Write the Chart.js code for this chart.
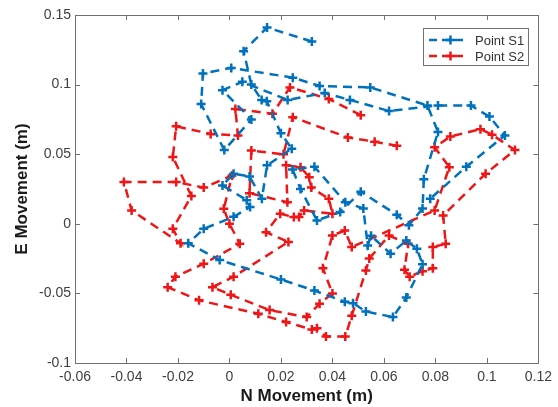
<!DOCTYPE html>
<html><head><meta charset="utf-8">
<script src="https://cdn.jsdelivr.net/npm/chart.js@4.4.1/dist/chart.umd.min.js"></script>
<style>html,body{margin:0;padding:0;background:#fff;}#wrap{width:558px;height:407px;}</style>
</head><body><div id="wrap"><canvas id="c" width="558" height="407"></canvas></div>
<script>
const seriesLabels = ["Point S1", "Point S2"];
const xTickRange = { min: -0.06, max: 0.12, step: 0.02 };
const yTickRange = { min: -0.1, max: 0.15, step: 0.05 };
const s1x = [0.032,0.0146,0.0055,0.0085,0.0125,0.0145,0.0200,0.0242,0.0146,0.0126,0.0078,0.0016,-0.0027,0.0067,0.008,0.0016,-0.010,-0.016,-0.0038,0.020,0.033,0.0448,0.048,0.053,0.0635,0.0687,0.075,0.0728,0.0687,0.0626,0.055,0.0537,0.052,0.045,0.033,0.0245,0.0276,0.034,0.043,0.051,0.065,0.0697,0.075,0.0755,0.081,0.0769,0.0547,0.035,0.0246,0.0007,-0.0103,-0.011,-0.002,0.0085,-0.0027,0.005,0.0226,0.037,0.0468,0.062,0.081,0.0938,0.101,0.107,0.092,0.078];
const s1y = [0.131,0.141,0.124,0.100,0.089,0.088,0.065,0.054,0.042,0.018,0.034,0.036,0.0275,0.017,0.012,0.005,-0.0036,-0.014,-0.026,-0.040,-0.048,-0.056,-0.057,-0.063,-0.067,-0.053,-0.029,-0.018,-0.012,-0.0215,-0.0085,-0.0155,0.011,0.0155,0.041,0.039,0.025,0.0024,0.0084,0.023,0.0065,-0.001,0.011,0.032,0.066,0.085,0.098,0.099,0.105,0.112,0.108,0.086,0.053,0.075,0.096,0.102,0.089,0.094,0.089,0.081,0.085,0.085,0.077,0.0635,0.041,0.018];
const s2x = [0.051,0.0386,0.0235,0.0167,0.0023,0.0033,-0.0073,-0.0207,-0.022,-0.0148,-0.022,-0.019,-0.038,-0.041,-0.0207,-0.010,0.001,-0.0022,0.0,0.004,-0.010,-0.021,-0.024,-0.0118,0.0112,0.022,0.032,0.034,0.0375,0.045,0.0475,0.053,0.0543,0.062,0.0694,0.068,0.070,0.075,0.079,0.079,0.084,0.083,0.0995,0.1109,0.102,0.0975,0.0858,0.0797,0.0854,0.0797,0.0475,0.0448,0.040,0.0363,0.040,0.035,0.030,0.0156,0.0005,-0.0066,0.0016,0.0229,0.0142,0.0197,0.025,0.027,0.029,0.040,0.0386,0.0318,0.031,0.0276,0.022,0.0225,0.0078,0.0085,0.021,0.0246,0.046,0.0564,0.065];
const s2y = [0.078,0.0897,0.098,0.079,0.0825,0.0634,0.0646,0.070,0.048,0.020,-0.0036,-0.014,0.0096,0.030,0.030,0.026,0.0347,0.0108,0.0,-0.0144,-0.0287,-0.038,-0.0455,-0.055,-0.0646,-0.0706,-0.076,-0.075,-0.081,-0.081,-0.066,-0.0335,-0.025,-0.0084,-0.0144,-0.033,-0.038,-0.034,-0.032,-0.0167,-0.0144,0.006,0.036,0.053,0.064,0.068,0.0627,0.055,0.0407,0.0096,-0.0167,-0.0048,-0.0084,-0.032,-0.050,-0.0574,-0.067,-0.062,-0.051,-0.0455,-0.038,-0.013,-0.006,0.0072,0.0048,0.0048,0.0096,0.0072,0.018,0.026,0.0335,0.0407,0.042,0.0155,0.022,0.0526,0.050,0.0766,0.062,0.059,0.056];

const blue = 'rgb(0,114,189)';
const red = 'rgb(238,22,22)';
const toPts = (xs, ys) => xs.map((x, i) => ({ x: x, y: ys[i] }));
const dash = [9, 6];
const fam = '"Liberation Sans", Arial, sans-serif';

const fmt = v => String(Math.round(v * 100) / 100);

const boxPlugin = {
  id: 'matlabBox',
  afterDatasetsDraw(chart) {
    const { ctx, chartArea: a, scales } = chart;
    ctx.save();
    ctx.strokeStyle = '#707070';
    ctx.lineWidth = 1;
    ctx.beginPath();
    ctx.rect(Math.round(a.left) + 0.5, Math.round(a.top) + 0.5, Math.round(a.right - a.left), Math.round(a.bottom - a.top));
    ctx.stroke();
    const tl = 5;
    ctx.beginPath();
    scales.x.ticks.forEach(t => {
      const px = Math.round(scales.x.getPixelForValue(t.value)) + 0.5;
      ctx.moveTo(px, a.bottom); ctx.lineTo(px, a.bottom - tl);
      ctx.moveTo(px, a.top); ctx.lineTo(px, a.top + tl);
    });
    scales.y.ticks.forEach(t => {
      const py = Math.round(scales.y.getPixelForValue(t.value)) + 0.5;
      ctx.moveTo(a.left, py); ctx.lineTo(a.left + tl, py);
      ctx.moveTo(a.right, py); ctx.lineTo(a.right - tl, py);
    });
    ctx.stroke();
    ctx.restore();
  },
  afterDraw(chart) {
    const { ctx } = chart;
    const bx = 423, by = 28, bw = 105, bh = 37;
    ctx.save();
    ctx.fillStyle = '#fff';
    ctx.fillRect(bx, by, bw, bh);
    ctx.strokeStyle = '#707070';
    ctx.lineWidth = 1;
    ctx.strokeRect(bx + 0.5, by + 0.5, bw, bh);
    chart.data.datasets.forEach((ds, i) => {
      const yy = by + 12 + i * 16;
      ctx.strokeStyle = ds.borderColor;
      ctx.lineWidth = 2.5;
      ctx.setLineDash([8, 5]);
      ctx.beginPath(); ctx.moveTo(429, yy); ctx.lineTo(463, yy); ctx.stroke();
      ctx.setLineDash([]);
      ctx.beginPath();
      ctx.moveTo(446, yy); ctx.lineTo(455, yy);
      ctx.moveTo(450.5, yy - 4.5); ctx.lineTo(450.5, yy + 4.5);
      ctx.stroke();
      ctx.fillStyle = '#333';
      ctx.font = '13px ' + fam;
      ctx.textBaseline = 'middle';
      ctx.fillText(ds.label, 475, yy + 1);
    });
    ctx.restore();
  }
};

new Chart(document.getElementById('c'), {
  type: 'scatter',
  data: {
    datasets: [
      { label: seriesLabels[0], data: toPts(s1x, s1y), showLine: true, borderColor: blue, backgroundColor: blue,
        borderWidth: 2.5, borderDash: dash, pointStyle: 'cross', pointRadius: 4.5, pointBorderWidth: 2.5,
        pointBorderColor: blue, pointHoverRadius: 4.5, tension: 0 },
      { label: seriesLabels[1], data: toPts(s2x, s2y), showLine: true, borderColor: red, backgroundColor: red,
        borderWidth: 2.5, borderDash: dash, pointStyle: 'cross', pointRadius: 4.5, pointBorderWidth: 2.5,
        pointBorderColor: red, pointHoverRadius: 4.5, tension: 0 }
    ]
  },
  options: {
    responsive: false,
    animation: false,
    devicePixelRatio: 1,
    layout: { padding: { top: 15, right: 18, left: 0, bottom: 0 } },
    plugins: { legend: { display: false }, tooltip: { enabled: false } },
    scales: {
      x: {
        type: 'linear', min: xTickRange.min, max: xTickRange.max,
        grid: { display: false, drawTicks: false },
        border: { display: false },
        ticks: { stepSize: xTickRange.step, padding: 6, color: '#404040', maxRotation: 0,
          font: { family: fam, size: 14 }, callback: fmt },
        title: { display: true, text: 'N Movement (m)', color: '#1a1a1a', padding: { top: 0, bottom: 0 },
          font: { family: fam, size: 17, weight: 'bold' } },
        afterFit(s) { s.height = 44; }
      },
      y: {
        type: 'linear', min: yTickRange.min, max: yTickRange.max,
        grid: { display: false, drawTicks: false },
        border: { display: false },
        ticks: { stepSize: yTickRange.step, padding: 4, color: '#404040',
          font: { family: fam, size: 14 }, callback: fmt },
        title: { display: true, text: 'E Movement (m)', color: '#1a1a1a', padding: { top: 12, bottom: 0 },
          font: { family: fam, size: 17, weight: 'bold' } },
        afterFit(s) { s.width = 75; }
      }
    }
  },
  plugins: [boxPlugin]
});
</script></body></html>
